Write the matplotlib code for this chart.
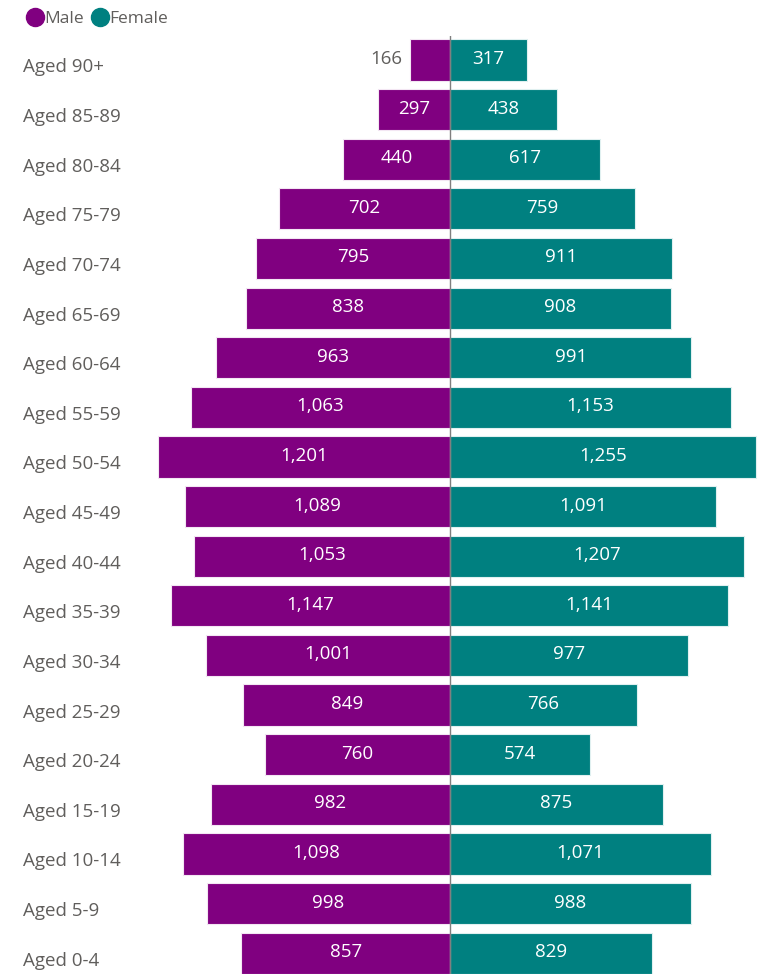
"""Population pyramid: male vs female counts by age band."""

import matplotlib.pyplot as plt
import matplotlib.transforms as mtransforms
from matplotlib.lines import Line2D

age_groups = [
    "Aged 0-4", "Aged 5-9", "Aged 10-14", "Aged 15-19", "Aged 20-24",
    "Aged 25-29", "Aged 30-34", "Aged 35-39", "Aged 40-44", "Aged 45-49",
    "Aged 50-54", "Aged 55-59", "Aged 60-64", "Aged 65-69", "Aged 70-74",
    "Aged 75-79", "Aged 80-84", "Aged 85-89", "Aged 90+",
]
male = [857, 998, 1098, 982, 760, 849, 1001, 1147, 1053, 1089,
        1201, 1063, 963, 838, 795, 702, 440, 297, 166]
female = [829, 988, 1071, 875, 574, 766, 977, 1141, 1207, 1091,
          1255, 1153, 991, 908, 911, 759, 617, 438, 317]

MALE_COLOR = "#800080"
FEMALE_COLOR = "#008080"
TEXT_GRAY = "#605e5c"

plt.rcParams["font.family"] = ["Open Sans", "DejaVu Sans"]

W, H = 769, 974
fig = plt.figure(figsize=(W / 100, H / 100), dpi=100)

# axes placed in pixel terms
ax_left, ax_right, ax_top, ax_bottom = 150, 769, 36, 974
ax = fig.add_axes([ax_left / W, 1 - ax_bottom / H,
                   (ax_right - ax_left) / W, (ax_bottom - ax_top) / H])

px_per_unit = 0.2435
center_px = 450
ax.set_xlim(-(center_px - ax_left) / px_per_unit, (ax_right - center_px) / px_per_unit)
row_px = 49.6
ax.set_ylim(-0.42, 18 + (60 - ax_top) / row_px)

y = list(range(len(age_groups)))
bar_h = 0.83
ax.barh(y, [-m for m in male], height=bar_h, color=MALE_COLOR,
        edgecolor="#f3e6f3", linewidth=0.8)
ax.barh(y, female, height=bar_h, color=FEMALE_COLOR,
        edgecolor="#e0f0f0", linewidth=0.8)
ax.axvline(0, color="#7f7f7f", linewidth=1, zorder=3)

for yi, m, f in zip(y, male, female):
    if m < 250:
        ax.text(-m - 28, yi + 0.02, f"{m:,}", ha="right", va="center",
                color=TEXT_GRAY, fontsize=13.5)
    else:
        ax.text(-m / 2, yi + 0.02, f"{m:,}", ha="center", va="center",
                color="white", fontsize=13.5)
    ax.text(f / 2, yi + 0.02, f"{f:,}", ha="center", va="center",
            color="white", fontsize=13.5)

# category labels, left-aligned near the figure edge
trans = mtransforms.blended_transform_factory(fig.transFigure, ax.transData)
for yi, label in zip(y, age_groups):
    ax.text(23 / W, yi - 0.15, label, transform=trans, ha="left", va="center",
            color=TEXT_GRAY, fontsize=13.5, clip_on=False)

ax.set_xticks([])
ax.set_yticks([])
for spine in ax.spines.values():
    spine.set_visible(False)

handles = [
    Line2D([], [], marker="o", linestyle="", markersize=13,
           color=MALE_COLOR, label="Male"),
    Line2D([], [], marker="o", linestyle="", markersize=13,
           color=FEMALE_COLOR, label="Female"),
]
fig.legend(handles=handles, loc="upper left", bbox_to_anchor=(14 / W, 1 + 1 / H),
           ncol=2, frameon=False, handletextpad=0.05, columnspacing=0.4,
           handlelength=1.0, labelcolor=TEXT_GRAY, fontsize=12.5,
           borderaxespad=0.3)

fig.savefig("out.png", dpi=100)
